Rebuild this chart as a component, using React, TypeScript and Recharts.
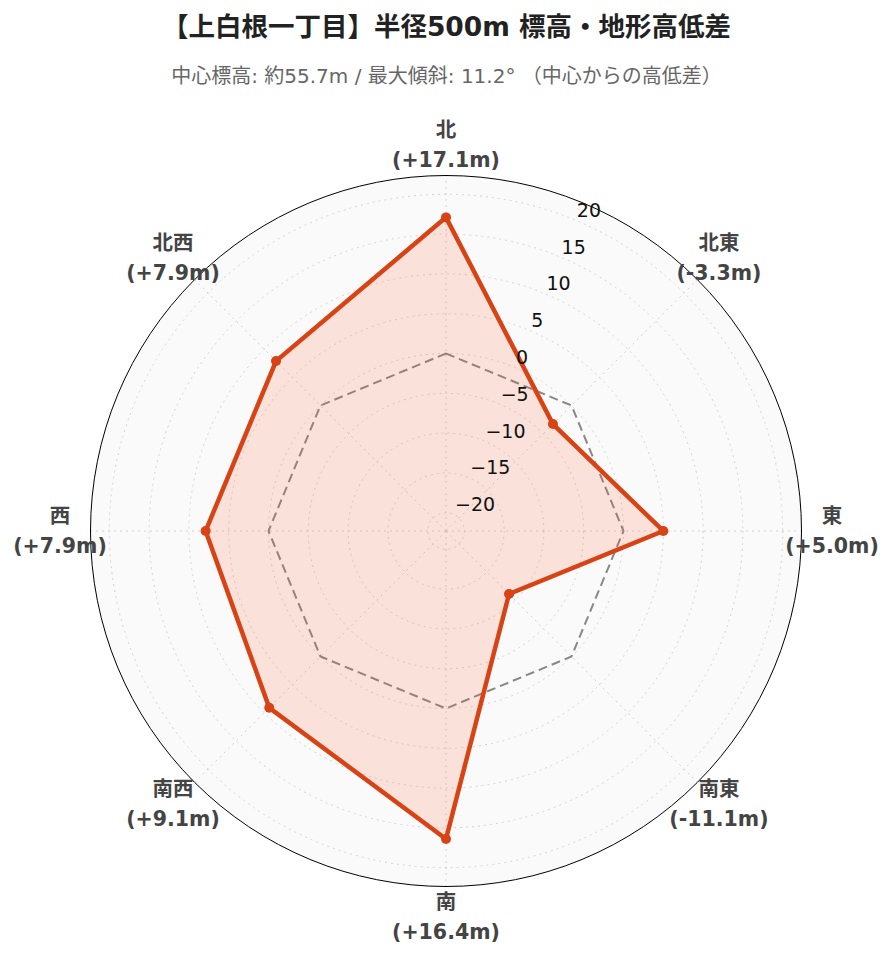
import { RadarChart, Radar, PolarGrid, PolarAngleAxis, PolarRadiusAxis } from 'recharts';

const directions = ['北', '北東', '東', '南東', '南', '南西', '西', '北西'];
const elevationDiff = [17.1, -3.3, 5.0, -11.1, 16.4, 9.1, 7.9, 7.9];
const diffLabels = ['(+17.1m)', '(-3.3m)', '(+5.0m)', '(-11.1m)', '(+16.4m)', '(+9.1m)', '(+7.9m)', '(+7.9m)'];
const referenceLevel = [0, 0, 0, 0, 0, 0, 0, 0];
const radialTicks = [-20, -15, -10, -5, 0, 5, 10, 15, 20];
const radialDomain = [-22.3, 22.3];

const W = 893;
const H = 962;
const CX = 446;
const CY = 531;
const R = 355;
const LABEL_R = 386;
const LINE = '#d84315';
const FILL = '#ff5722';
const FONT = '"DejaVu Sans", "Noto Sans CJK JP", sans-serif';

const data = directions.map((dir, i) => ({
  dir,
  value: elevationDiff[i],
  zero: referenceLevel[i],
}));

const AngleTick = (props: any) => {
  const { payload, index } = props;
  const angle = typeof payload?.coordinate === 'number' ? payload.coordinate : 90 - index * 45;
  const rad = (-angle * Math.PI) / 180;
  const x = CX + Math.cos(rad) * LABEL_R;
  const y = CY + Math.sin(rad) * LABEL_R;
  const i = directions.indexOf(payload.value);
  return (
    <g>
      <text x={x} y={y - 15} textAnchor="middle" dominantBaseline="central"
        fontSize={20.5} fontWeight="bold" fill="#444" fontFamily={FONT}>
        {payload.value}
      </text>
      <text x={x} y={y + 15} textAnchor="middle" dominantBaseline="central"
        fontSize={20.5} fontWeight="bold" fill="#444" fontFamily={FONT}>
        {diffLabels[i]}
      </text>
    </g>
  );
};

const RadiusTick = (props: any) => {
  const { x, y, payload } = props;
  const v = payload.value;
  const txt = v < 0 ? `\u2212${Math.abs(v)}` : String(v);
  return (
    <text x={x + 2} y={y - 3} textAnchor="start" fontSize={19} fill="#111" fontFamily={FONT}>
      {txt}
    </text>
  );
};

export default function App() {
  return (
    <div style={{ position: 'absolute', left: 0, top: 0, width: W, height: H, background: '#fff' }}>
      <div style={{
        position: 'absolute', left: 0, top: 8, width: W, textAlign: 'center',
        fontSize: 26.5, fontWeight: 'bold', lineHeight: '38px', color: '#222', fontFamily: FONT,
      }}>
        【上白根一丁目】半径500m 標高・地形高低差
      </div>
      <div style={{
        position: 'absolute', left: 0, top: 62, width: W, textAlign: 'center',
        fontSize: 20, lineHeight: '28px', color: '#666', fontFamily: FONT,
      }}>
        中心標高: 約55.7m / 最大傾斜: 11.2° （中心からの高低差）
      </div>
      <div style={{
        position: 'absolute', left: CX - R - 1, top: CY - R - 1, width: 2 * R, height: 2 * R,
        borderRadius: '50%', background: '#fafafa', border: '1px solid #000',
      }} />
      <div style={{ position: 'absolute', left: 0, top: 0 }}>
        <RadarChart width={W} height={H} data={data} cx={CX} cy={CY} outerRadius={R}
          margin={{ top: 0, right: 0, bottom: 0, left: 0 }}>
          <PolarGrid gridType="circle" stroke="#d2d2d2" strokeDasharray="2 4" strokeWidth={1} />
          <PolarAngleAxis dataKey="dir" tick={AngleTick} tickLine={false} axisLine={false} />
          <PolarRadiusAxis angle={67.5} domain={radialDomain} ticks={radialTicks}
            tick={RadiusTick} axisLine={false} tickLine={false} />
          <Radar dataKey="zero" stroke="#888" strokeWidth={2} strokeDasharray="9 5"
            fill="none" fillOpacity={0} isAnimationActive={false} />
          <Radar dataKey="value" stroke={LINE} strokeWidth={4.5} fill={FILL} fillOpacity={0.15}
            dot={{ r: 5, fill: LINE, stroke: LINE, strokeWidth: 0, fillOpacity: 1 }} isAnimationActive={false} />
        </RadarChart>
      </div>
    </div>
  );
}
